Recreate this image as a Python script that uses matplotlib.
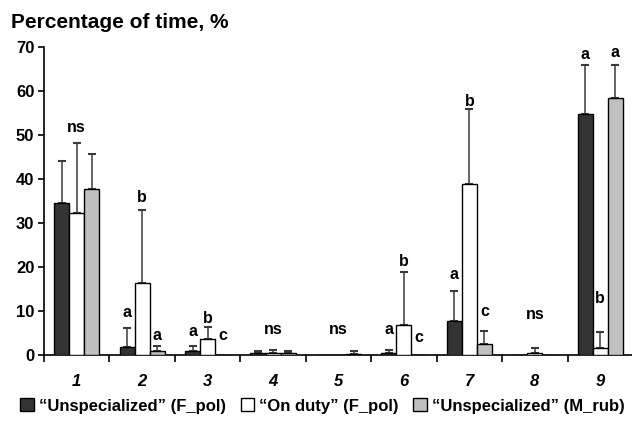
import matplotlib.pyplot as plt
import numpy as np
from matplotlib.patches import Patch

plt.rcParams['font.family'] = ['Liberation Sans', 'DejaVu Sans']
plt.rcParams['font.weight'] = 'bold'

categories = ['1', '2', '3', '4', '5', '6', '7', '8', '9']
series_names = ['\u201cUnspecialized\u201d (F_pol)',
                '\u201cOn duty\u201d (F_pol)',
                '\u201cUnspecialized\u201d (M_rub)']

unspec_fpol = [34.5, 1.9, 0.9, 0.5, 0.0, 0.4, 7.8, 0.1, 54.7]
unspec_fpol_sd = [9.6, 4.2, 1.2, 0.4, 0.0, 0.7, 6.8, 0.0, 11.3]
onduty_fpol = [32.3, 16.4, 3.6, 0.5, 0.0, 6.8, 38.8, 0.5, 1.6]
onduty_fpol_sd = [15.9, 16.6, 2.7, 0.6, 0.0, 12.1, 17.0, 1.1, 3.7]
unspec_mrub = [37.7, 0.8, 0.0, 0.5, 0.3, 0.0, 2.6, 0.0, 58.5]
unspec_mrub_sd = [7.9, 1.2, 0.0, 0.5, 0.7, 0.0, 2.8, 0.0, 7.5]

# significance letters: (category index, series index or None for group centre, text, y)
letters = [
    (0, None, 'ns', 51.6),
    (1, 0, 'a', 9.6), (1, 1, 'b', 35.7), (1, 2, 'a', 4.5),
    (2, 0, 'a', 5.3), (2, 1, 'b', 8.4), (2, 2, 'c', 4.5),
    (3, None, 'ns', 5.9),
    (4, None, 'ns', 5.8),
    (5, 0, 'a', 5.7), (5, 1, 'b', 21.2), (5, 2, 'c', 3.9),
    (6, 0, 'a', 18.4), (6, 1, 'b', 57.6), (6, 2, 'c', 10.0),
    (7, None, 'ns', 9.1),
    (8, 0, 'a', 68.2), (8, 1, 'b', 12.9), (8, 2, 'a', 68.7),
]

colors = ['#333333', '#ffffff', '#c0c0c0']
means = [unspec_fpol, onduty_fpol, unspec_mrub]
sds = [unspec_fpol_sd, onduty_fpol_sd, unspec_mrub_sd]

fig = plt.figure(figsize=(6.32, 4.21), dpi=100)
ax = fig.add_axes([44 / 632, 1 - 355 / 421, 589 / 632, 308 / 421])

x = np.arange(1, len(categories) + 1)
w = 0.23
offsets = [-w, 0, w]

for vals, sd, col, off, name in zip(means, sds, colors, offsets, series_names):
    vals = np.array(vals)
    sd = np.array(sd)
    ax.bar(x + off, vals, width=w, color=col, edgecolor='black', linewidth=1.0,
           label=name, zorder=3)
    m = sd > 0
    ax.errorbar(x[m] + off, vals[m], yerr=[np.zeros(m.sum()), sd[m]], fmt='none',
                ecolor='#3a3a3a', elinewidth=1.1, capsize=3, capthick=1.5, zorder=2)

for ci, si, txt, yv in letters:
    xp = x[ci] + (0 if si is None else offsets[si])
    ax.text(xp, yv, txt, ha='center', va='center', fontsize=11.5, fontweight='bold')

ax.set_xlim(0.5, len(categories) + 0.5)
ax.set_ylim(0, 70)
ax.set_yticks(np.arange(0, 71, 10))
ax.set_xticks(x)
ax.set_xticklabels(categories, fontstyle='italic', fontweight='bold', fontsize=12)
ax.set_xticks(np.arange(0.5, len(categories) + 1, 1), minor=True)
ax.tick_params(axis='x', which='major', length=0, pad=14)
ax.tick_params(axis='x', which='minor', length=5, width=1.2, direction='out')
ax.tick_params(axis='y', length=4, width=1.2, pad=3, labelsize=12)
for lab in ax.get_yticklabels():
    lab.set_fontweight('bold')

ax.spines['top'].set_visible(False)
ax.spines['right'].set_visible(False)
ax.spines['left'].set_linewidth(1.2)
ax.spines['bottom'].set_linewidth(1.2)

fig.text(11 / 632, 1 - 22 / 421, 'Percentage of time, %', fontsize=15,
         fontweight='bold', ha='left', va='center')

handles = [Patch(facecolor=c, edgecolor='black', linewidth=1.0) for c in colors]
fig.legend(handles, series_names, loc='center', bbox_to_anchor=(0.51, 1 - 406 / 421),
           ncol=3, frameon=False, fontsize=12, handlelength=0.8, handleheight=0.8,
           handletextpad=0.3, columnspacing=0.9, borderaxespad=0)

fig.savefig('out.png', dpi=100)
